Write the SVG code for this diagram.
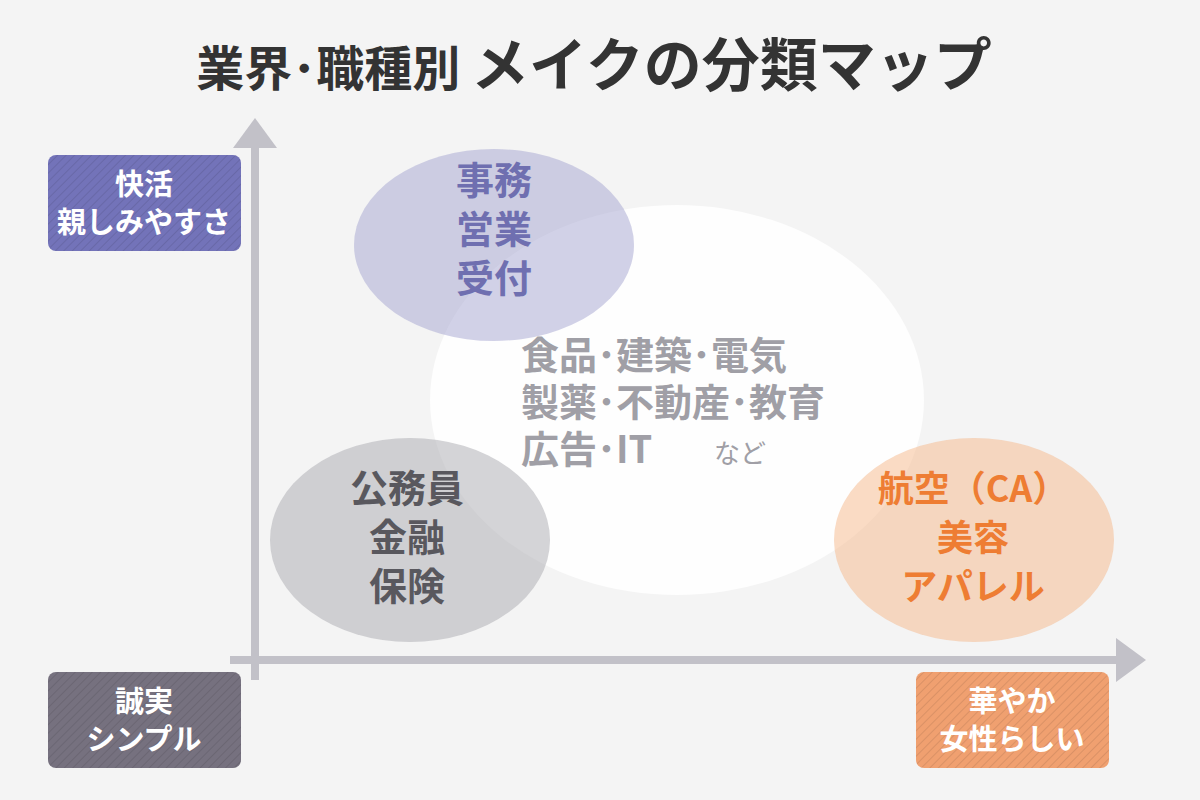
<svg xmlns="http://www.w3.org/2000/svg" width="1200" height="800" viewBox="0 0 1200 800">
<defs>
<pattern id="hatch" width="6" height="6" patternUnits="userSpaceOnUse" patternTransform="rotate(45)">
<line x1="0" y1="0" x2="0" y2="6" stroke="#000" stroke-opacity="0.12" stroke-width="1.5"/>
</pattern>
<style>
text{font-family:"Noto Sans CJK JP","Noto Sans",sans-serif;font-weight:bold;text-anchor:middle}
.box{font-size:29px;fill:#fff}
.pu{font-size:38px;fill:#6f6fb0}
.gr{font-size:38px;fill:#59585e}
.or{font-size:36px;fill:#ee7d33}
.ce{font-size:38px;fill:#a09fa6;text-anchor:start}
.ax{fill:#c2c1c8}
</style>
</defs>
<rect width="1200" height="800" fill="#f4f4f4"/>
<text x="594" y="86" fill="#333"><tspan font-size="48">業界･職種別 </tspan><tspan font-size="58">メイクの分類マップ</tspan></text>
<g id="connectors">
<rect class="ax" x="251" y="145" width="8" height="535"/>
<polygon class="ax" points="255,118 233,148 277,148"/>
<rect class="ax" x="230" y="656" width="890" height="8"/>
<polygon class="ax" points="1146,660 1116,638 1116,682"/>
</g>
<g id="center"><ellipse cx="677" cy="400" rx="247" ry="195" fill="#fff" fill-opacity="0.85"/>
<text class="ce" x="521" y="369">食品･建築･電気</text>
<text class="ce" x="521" y="416">製薬･不動産･教育</text>
<text class="ce" x="521" y="463">広告･IT<tspan x="714" font-size="26" font-weight="normal">など</tspan></text></g>
<g id="purple"><ellipse cx="494" cy="245" rx="140" ry="96" fill="#9c9ccc" fill-opacity="0.45"/>
<text class="pu" x="494" y="194">事務</text><text class="pu" x="494" y="243">営業</text><text class="pu" x="494" y="292">受付</text></g>
<g id="gray"><ellipse cx="410" cy="540" rx="140" ry="102" fill="#a9a9b0" fill-opacity="0.5"/>
<text class="gr" x="407" y="502">公務員</text><text class="gr" x="407" y="551">金融</text><text class="gr" x="407" y="600">保険</text></g>
<g id="orange"><ellipse cx="974" cy="540" rx="140" ry="102" fill="#f6b78a" fill-opacity="0.5"/>
<text class="or" x="973" y="502">航空（CA）</text><text class="or" x="973" y="551">美容</text><text class="or" x="973" y="600">アパレル</text></g>
<g id="box-top"><rect x="48" y="155" width="193" height="96" rx="8" fill="#7373b9"/><rect x="48" y="155" width="193" height="96" rx="8" fill="url(#hatch)"/>
<text class="box" x="144" y="195">快活</text><text class="box" x="144" y="233">親しみやすさ</text></g>
<g id="box-bl"><rect x="48" y="672" width="193" height="96" rx="8" fill="#76717f"/><rect x="48" y="672" width="193" height="96" rx="8" fill="url(#hatch)"/>
<text class="box" x="144" y="712">誠実</text><text class="box" x="144" y="750">シンプル</text></g>
<g id="box-br"><rect x="916" y="672" width="193" height="96" rx="8" fill="#f0a070"/><rect x="916" y="672" width="193" height="96" rx="8" fill="url(#hatch)"/>
<text class="box" x="1012" y="712">華やか</text><text class="box" x="1012" y="750">女性らしい</text></g>
</svg>
